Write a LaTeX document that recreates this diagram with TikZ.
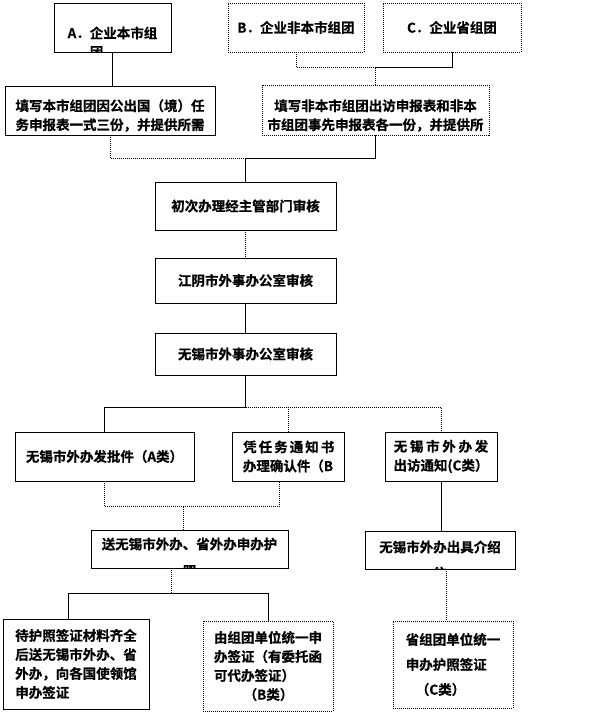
\documentclass[tikz,border=0pt]{standalone}
\usepackage{fontspec}
\setmainfont{Noto Sans CJK SC}[BoldFont={Noto Sans CJK SC Bold}, BoldFeatures={FakeBold=0.6}]
\usetikzlibrary{calc}

\tikzset{
	txt/.style={font=\bfseries\fontsize{13.5}{19}\selectfont, align=center, inner sep=0pt},
	box/.style={draw, line width=0.8pt, txt},
	dbox/.style={box, dash pattern=on 1pt off 1pt},
	cut/.style n args={3}{path picture={\node[txt, align=#2, yshift={-(#1)*1pt}] at (path picture bounding box.center) {#3};}},
	link/.style={line width=0.8pt},
	dlink/.style={link, dash pattern=on 1pt off 1pt}
}

\begin{document}
\begin{tikzpicture}[x=1pt, y=-1pt]
		\useasboundingbox (0, 0) rectangle (611, 714);

		% top row
		\node[box, minimum width=117, minimum height=49, cut={15}{left}{A．企业本市组\\\phantom{A．}团}] (A) at (112.5, 27.5) {};
		\node[dbox, minimum width=136, minimum height=49] (B) at (296, 27.5) {B．企业非本市组团};
		\node[dbox, minimum width=138, minimum height=49] (C) at (452, 27.5) {C．企业省组团};

		\node[box, minimum width=210, minimum height=49, cut={5}{center}{填写本市组团因公出国（境）任\\务申报表一式三份，并提供所需}] (L1) at (110, 110.5) {};
		\node[dbox, minimum width=227, minimum height=50, cut={5.5}{center}{填写非本市组团出访申报表和非本\\市组团事先申报表各一份，并提供所}] (R1) at (375.5, 110) {};

		% review chain
		\node[box, minimum width=181, minimum height=48] (P1) at (245.5, 206) {初次办理经主管部门审核};
		\node[box, minimum width=181, minimum height=45] (P2) at (245.5, 280.5) {江阴市外事办公室审核};
		\node[box, minimum width=181, minimum height=42] (P3) at (245.5, 354) {无锡市外事办公室审核};

		% three kinds
		\node[box, minimum width=179, minimum height=49] (QA) at (104.5, 456.5) {无锡市外办发批件（A类）};
		\node[box, minimum width=112, minimum height=49] (QB) at (288, 456.5) {\makebox[6.65em][s]{凭 任 务 通 知 书}\\办理确认件（B};
		\node[box, minimum width=112, minimum height=49] (QC) at (441, 456.5) {\makebox[7em][s]{无 锡 市 外 办 发}\\出访通知(C类）};

		\node[box, minimum width=197, minimum height=38, cut={8.5}{center}{送无锡市外办、省外办申办护\\[8pt]照}] (S1) at (189.5, 549) {};
		\node[box, minimum width=150, minimum height=38, cut={10}{center}{无锡市外办出具介绍\\[7pt]信}] (S2) at (440, 550) {};

		% bottom row
		\node[box, align=left, minimum width=146, minimum height=90] (T1) at (76, 664) {待护照签证材料齐全\\后送无锡市外办、省\\外办，向各国使领馆\\申办签证};
		\node[dbox, align=left, minimum width=130, minimum height=90] (T2) at (268, 666) {由组团单位统一申\\办签证（有委托函\\可代办签证）\\\hspace*{2.2em}（B类）};
		\node[dbox, align=left, minimum width=120, minimum height=87] (T3) at (453, 664.5) {省组团单位统一\\[6pt]申办护照签证\\[6pt]\hspace*{0.75em}（C类）};

		% connectors
		\draw[link] (A.south) -- (A.south |- L1.north);
		\coordinate (bcjoin) at ($(R1.north)+(0, -17)$);
		\draw[dlink] (B.south) |- (bcjoin);
		\draw[link] (bcjoin) -| (C.south);
		\draw[dlink] (bcjoin) -- (R1.north);

		\coordinate (lrjoin) at ($(P1.north)+(0, -23)$);
		\draw[dlink] (L1.south) |- (lrjoin);
		\draw[link] (lrjoin) -| (R1.south);
		\draw[link] (lrjoin) -- (P1.north);

		\draw[dlink] (P1) -- (P2);
		\draw[link] (P2) -- (P3);

		\coordinate (split) at ($(P3.south)+(0, 32)$);
		\draw[link] (P3.south) -- (split);
		\draw[link] (split) -| (QA.north);
		\draw[dlink] (split) -| (QB.north);
		\draw[dlink] (split) -| (QC.north);

		\coordinate (abjoin) at ($(S1.north)+(-6.5, -23)$);
		\draw[dlink] (QA.south) |- (abjoin);
		\draw[dlink] (abjoin) -| ($(QB.south)+(-9, 0)$);
		\draw[dlink] (abjoin) -- (abjoin |- S1.north);
		\draw[link] (QC.south) -- (QC.south |- S2.north);

		\coordinate (tjoin) at ($(S1.south)+(-18.5, 25)$);
		\draw[dlink] (tjoin |- S1.south) -- (tjoin);
		\draw[link] (tjoin) -| ($(T1.north)+(-8, 0)$);
		\draw[link] (tjoin) -| (T2.north);
		\coordinate (s2out) at ($(S2.south)+(6, 0)$);
		\draw[dlink] (s2out) -- (s2out |- T3.north);
	\end{tikzpicture}
\end{document}
